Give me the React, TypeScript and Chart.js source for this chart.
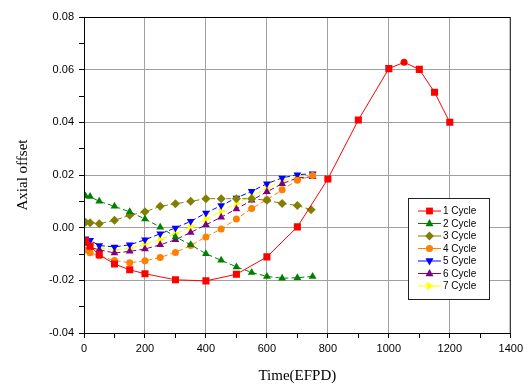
import React, { useEffect, useRef } from "react";
import { Chart, registerables } from "chart.js";

Chart.register(...registerables);

const xStd = [5, 20, 50, 100, 150, 200, 250, 300, 350, 400, 450, 500, 550, 600, 650, 700, 750];

const cycle1X = [5, 20, 50, 100, 150, 200, 300, 400, 500, 600, 700, 800, 900, 1000, 1050, 1100, 1150, 1200];
const cycle1Y = [-0.005, -0.007, -0.0103, -0.0138, -0.016, -0.0175, -0.0198, -0.0202, -0.0177, -0.0111, 0.0003, 0.0185, 0.0409, 0.0604, 0.0628, 0.0601, 0.0514, 0.04];
const cycle2Y = [0.012, 0.0118, 0.01, 0.0081, 0.006, 0.0033, 0.0002, -0.0035, -0.0065, -0.0099, -0.0124, -0.0149, -0.017, -0.0185, -0.0192, -0.019, -0.0185];
const cycle3X = [5, 20, 50, 100, 150, 200, 250, 300, 350, 400, 450, 500, 550, 600, 650, 700, 745];
const cycle3Y = [0.0021, 0.0019, 0.0015, 0.0028, 0.0047, 0.006, 0.0081, 0.0091, 0.01, 0.011, 0.011, 0.011, 0.011, 0.0104, 0.0092, 0.0084, 0.0068];
const cycle4Y = [-0.0085, -0.0095, -0.0107, -0.0125, -0.0133, -0.0126, -0.0113, -0.0094, -0.0068, -0.0035, -0.0005, 0.0033, 0.0073, 0.0106, 0.0144, 0.018, 0.0198];
const cycle5Y = [-0.0042, -0.0048, -0.0068, -0.0073, -0.0065, -0.0046, -0.0023, -0.0001, 0.0024, 0.0056, 0.0084, 0.0113, 0.0138, 0.0167, 0.0189, 0.0201, 0.0205];
const cycle6Y = [-0.006, -0.0075, -0.0084, -0.0096, -0.009, -0.0081, -0.0065, -0.0046, -0.0018, 0.0011, 0.004, 0.0071, 0.0104, 0.0136, 0.0167, 0.0189, 0.0193];
const cycle7Y = [-0.0052, -0.006, -0.0076, -0.0085, -0.0078, -0.0063, -0.0045, -0.0022, 0.0003, 0.0033, 0.0062, 0.0092, 0.012, 0.015, 0.018, 0.0195, 0.02];

const labels = ["1 Cycle", "2 Cycle", "3 Cycle", "4 Cycle", "5 Cycle", "6 Cycle", "7 Cycle"];
const colors = ["#ff0000", "#008000", "#808000", "#ff8000", "#0000ff", "#800080", "#ffff00"];
const styles = ["rect", "triangle", "rectRot", "circle", "triangle", "triangle", "triangle"];
const rotations = [0, 0, 0, 0, 180, 0, 90];
const radii = [5, 4.5, 4.5, 3.5, 4.5, 4.5, 4.5];

const xTicks = [0, 200, 400, 600, 800, 1000, 1200, 1400];
const yTicks = [-0.04, -0.02, 0.0, 0.02, 0.04, 0.06, 0.08];

function zip(xs: number[], ys: number[]) {
  return xs.map((x, i) => ({ x, y: ys[i] }));
}

function drawMarker(ctx: CanvasRenderingContext2D, style: string, rot: number, x: number, y: number, r: number, color: string) {
  ctx.save();
  ctx.translate(x, y);
  ctx.rotate((rot * Math.PI) / 180);
  ctx.fillStyle = color;
  ctx.beginPath();
  if (style === "rect") {
    ctx.rect(-r * 0.85, -r * 0.85, r * 1.7, r * 1.7);
  } else if (style === "circle") {
    ctx.arc(0, 0, r * 0.9, 0, Math.PI * 2);
  } else if (style === "rectRot") {
    ctx.moveTo(0, -r * 1.1);
    ctx.lineTo(r * 1.1, 0);
    ctx.lineTo(0, r * 1.1);
    ctx.lineTo(-r * 1.1, 0);
    ctx.closePath();
  } else {
    ctx.moveTo(0, -r * 1.1);
    ctx.lineTo(r, r * 0.7);
    ctx.lineTo(-r, r * 0.7);
    ctx.closePath();
  }
  ctx.fill();
  ctx.restore();
}

const framePlugin = {
  id: "frameAndLegend",
  afterDraw(chart: any) {
    const ctx: CanvasRenderingContext2D = chart.ctx;
    const a = chart.chartArea;
    ctx.save();
    ctx.strokeStyle = "#000";
    ctx.lineWidth = 1;
    ctx.strokeRect(a.left + 0.5, a.top + 0.5, a.right - a.left - 1, a.bottom - a.top);
    const bx = a.left + 324;
    const by = a.top + 181;
    const bw = 81;
    const bh = 101;
    ctx.fillStyle = "#fff";
    ctx.fillRect(bx, by, bw, bh);
    ctx.strokeStyle = "#222";
    ctx.strokeRect(bx + 0.5, by + 0.5, bw, bh);
    ctx.font = "10px 'Liberation Sans', Arial, sans-serif";
    ctx.textBaseline = "middle";
    chart.data.datasets.forEach((ds: any, i: number) => {
      const ry = by + 13 + i * 12.5;
      const lx0 = bx + 10;
      const lx1 = bx + 33;
      ctx.strokeStyle = ds.borderColor;
      ctx.lineWidth = 1;
      ctx.beginPath();
      ctx.moveTo(lx0, ry);
      ctx.lineTo(lx1, ry);
      ctx.stroke();
      drawMarker(ctx, styles[i], rotations[i], (lx0 + lx1) / 2, ry, 4, ds.borderColor);
      ctx.fillStyle = "#000";
      ctx.textAlign = "left";
      ctx.fillText(ds.label, bx + 35, ry + 0.5);
    });
    ctx.restore();
  },
};

export default function App() {
  const ref = useRef<HTMLCanvasElement>(null);
  useEffect(() => {
    if (!ref.current) return;
    const series = [
      zip(cycle1X, cycle1Y),
      zip(xStd, cycle2Y),
      zip(cycle3X, cycle3Y),
      zip(xStd, cycle4Y),
      zip(xStd, cycle5Y),
      zip(xStd, cycle6Y),
      zip(xStd, cycle7Y),
    ];
    const datasets = series.map((data, i) => ({
      label: labels[i],
      data,
      borderColor: colors[i],
      backgroundColor: colors[i],
      borderWidth: 1,
      borderDash: i === 0 ? [] : [5, 3],
      pointStyle: i === 0 ? data.map((p) => (p.x === 1050 ? "circle" : "rect")) : styles[i],
      pointRotation: rotations[i],
      pointRadius: i === 0 ? data.map((p) => (p.x === 1050 ? 3.5 : radii[0])) : radii[i],
      pointBorderWidth: 0,
      pointBorderColor: colors[i],
      pointBackgroundColor: colors[i],
      tension: 0,
    }));
    const tickFont = { family: "'Liberation Sans', Arial, sans-serif", size: 11 };
    const titleFont = { family: "'Liberation Serif', 'Times New Roman', serif", size: 15 };
    const chart = new Chart(ref.current, {
      type: "line",
      data: { datasets: datasets as any },
      options: {
        animation: false,
        responsive: false,
        layout: { padding: { top: 17, right: 15, left: 0, bottom: 0 } },
        plugins: { legend: { display: false }, tooltip: { enabled: false } },
        scales: {
          x: {
            type: "linear",
            min: 0,
            max: 1400,
            border: { display: true, color: "#000", width: 1 },
            grid: {
              color: (c: any) => (c.tick && xTicks.includes(c.tick.value) && c.tick.value !== 0 && c.tick.value !== 1400 ? "#a0a0a0" : "transparent"),
              tickColor: "#000",
              tickLength: 5,
              lineWidth: 1,
            },
            ticks: {
              stepSize: 100,
              autoSkip: false,
              maxRotation: 0,
              padding: 4,
              color: "#000",
              font: tickFont,
              callback: (v: any) => (xTicks.includes(Number(v)) ? String(v) : ""),
            },
            title: { display: true, text: "Time(EFPD)", color: "#000", font: titleFont, padding: { top: 4, bottom: 3 } },
            afterFit: (s: any) => {
              s.height = 55;
            },
          },
          y: {
            type: "linear",
            min: -0.04,
            max: 0.08,
            border: { display: true, color: "#000", width: 1 },
            grid: {
              color: (c: any) => {
                const v = c.tick ? Math.round(c.tick.value * 1000) / 1000 : 1;
                const major = yTicks.some((t) => Math.abs(t - v) < 1e-6);
                return major && Math.abs(v - 0.08) > 1e-6 && Math.abs(v + 0.04) > 1e-6 ? "#a0a0a0" : "transparent";
              },
              tickColor: "#000",
              tickLength: 5,
              lineWidth: 1,
            },
            ticks: {
              stepSize: 0.01,
              autoSkip: false,
              padding: 5,
              color: "#000",
              font: tickFont,
              callback: (v: any) => {
                const n = Number(v);
                return yTicks.some((t) => Math.abs(t - n) < 1e-6) ? n.toFixed(2) : "";
              },
            },
            title: { display: true, text: "Axial offset", color: "#000", font: titleFont, padding: { top: 14, bottom: 0 } },
            afterFit: (s: any) => {
              s.width = 84;
            },
          },
        },
      },
      plugins: [framePlugin],
    });
    return () => chart.destroy();
  }, []);
  return (
    <div style={{ position: "absolute", left: 0, top: 0, width: 527, height: 388, background: "#fff" }}>
      <canvas ref={ref} width={527} height={388} style={{ display: "block" }} />
    </div>
  );
}
